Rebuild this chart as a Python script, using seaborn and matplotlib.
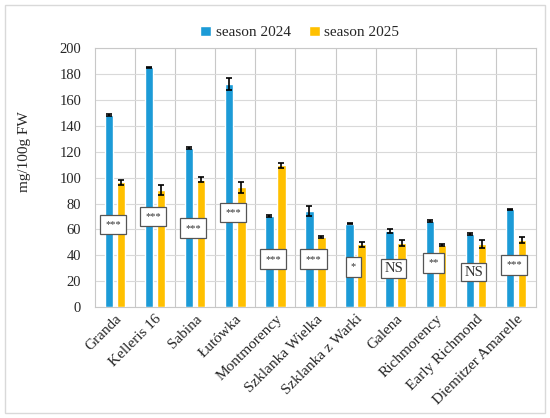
import numpy as np
import pandas as pd
import matplotlib.pyplot as plt
from matplotlib.patches import Rectangle
import seaborn as sns

# Data
cultivars = ["Granda", "Kelleris 16", "Sabina", "Łutówka", "Montmorency",
             "Szklanka Wielka", "Szklanka z Warki", "Galena", "Richmorency",
             "Early Richmond", "Diemitzer Amarelle"]
season_2024 = [148.5, 185.5, 123.0, 172.5, 70.5, 74.5, 64.5, 58.5, 66.5, 56.5, 75.5]
err_2024 = [1.0, 0.4, 0.4, 4.5, 0.6, 4.0, 0.5, 1.5, 0.5, 0.5, 0.5]
season_2025 = [96.5, 90.5, 98.5, 92.5, 109.5, 54.0, 48.5, 49.5, 48.0, 48.5, 52.0]
err_2025 = [1.8, 3.5, 2.0, 4.5, 2.0, 1.0, 2.0, 2.0, 0.6, 3.0, 2.5]
significance = ["***", "***", "***", "***", "***", "***", "*", "NS", "**", "NS", "***"]
sig_y = [64, 70, 61, 73, 37, 37, 31, 30, 34, 27, 32.5]

df = pd.DataFrame({
    "Cultivar": cultivars * 2,
    "Value": season_2024 + season_2025,
    "Err": err_2024 + err_2025,
    "Season": ["season 2024"] * len(cultivars) + ["season 2025"] * len(cultivars),
})

sns.set_style("white")
plt.rcParams["font.family"] = ["Liberation Serif", "DejaVu Serif"]

fig = plt.figure(figsize=(5.5, 4.18), dpi=100)
ax = fig.add_axes([0.1727, 0.2656, 0.8018, 0.6184])

palette = {"season 2024": "#1C9BD7", "season 2025": "#FFC000"}
sns.barplot(data=df, x="Cultivar", y="Value", hue="Season", palette=palette,
            width=0.6, gap=0.3, errorbar=None, saturation=1, ax=ax, zorder=3)

# error bars at the bar centres
for bars, errs in zip(ax.containers, [err_2024, err_2025]):
    xs = [b.get_x() + b.get_width() / 2 for b in bars]
    hs = [b.get_height() for b in bars]
    ax.errorbar(xs, hs, yerr=errs, fmt="none", ecolor="black",
                elinewidth=1.2, capsize=2.3, capthick=1.2, zorder=4)

# significance boxes
for i, (s, y) in enumerate(zip(significance, sig_y)):
    if s == "NS":
        fs, pad = 10.5, 0.2
    else:
        fs, pad = 7.5, 0.5
    ax.text(i - 0.05, y, s, ha="center", va="center", fontsize=fs, color="#333333",
            zorder=6,
            bbox=dict(boxstyle=f"square,pad={pad}", fc="white", ec="#555555", lw=0.9))

ax.set_ylim(0, 200)
ax.set_xlim(-0.5, len(cultivars) - 0.5)
ax.set_yticks(range(0, 201, 20))
ax.set_xticks(range(len(cultivars)))
ax.set_xticklabels(cultivars, rotation=45, ha="right", rotation_mode="anchor", fontsize=11)
ax.set_xticks(np.arange(0.5, len(cultivars) - 0.5, 1), minor=True)
ax.tick_params(axis="y", labelsize=10.5, length=0, pad=10)
ax.tick_params(axis="x", which="both", length=0, pad=4)
ax.grid(axis="y", color="#d9d9d9", lw=0.8, zorder=0)
ax.grid(axis="x", which="minor", color="#c8c8c8", lw=0.8, zorder=0)
ax.set_axisbelow(True)
for sp in ax.spines.values():
    sp.set_color("#c8c8c8")
    sp.set_linewidth(0.8)
ax.set_xlabel("")
ax.set_ylabel("mg/100g FW", fontsize=11)
ax.yaxis.set_label_coords(-0.145, 0.6)

handles, labels = ax.get_legend_handles_labels()
ax.legend(handles, labels, loc="center", bbox_to_anchor=(0.545, 0.922),
          bbox_transform=fig.transFigure, ncol=2, frameon=False, fontsize=11,
          handlelength=0.7, handleheight=0.7, handletextpad=0.3, columnspacing=1.2)

fig.patches.append(Rectangle((0.009, 0.012), 0.982, 0.976, transform=fig.transFigure,
                             fill=False, ec="#d9d9d9", lw=1.0))

fig.savefig("out.png", dpi=100)
